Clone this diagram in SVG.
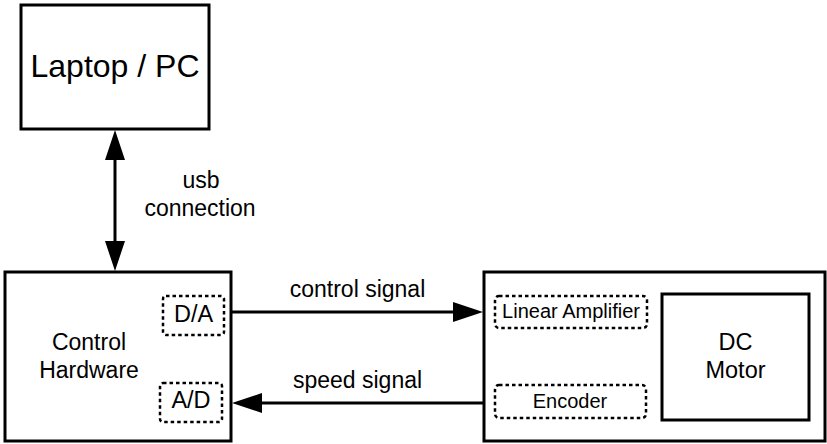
<svg xmlns="http://www.w3.org/2000/svg" width="827" height="444" viewBox="0 0 827 444">
<style>
.box{fill:#fff;stroke:#000;stroke-width:3}
.dash{fill:none;stroke:#000;stroke-width:2.5;stroke-dasharray:3.5 3}
.t{font-family:"Liberation Sans",Arial,sans-serif;fill:#000;text-anchor:middle}
.line{stroke:#000;stroke-width:3;fill:none}
.head{fill:#000;stroke:none}
</style>
<rect width="827" height="444" fill="#fff"/>
<g id="laptop">
<rect class="box" x="21" y="5" width="188" height="124"/>
<text class="t" x="115" y="77" font-size="32">Laptop / PC</text>
</g>
<g id="control-hardware">
<rect class="box" x="5" y="272" width="226" height="169"/>
<text class="t" x="89" y="350" font-size="23">Control</text>
<text class="t" x="89" y="378" font-size="23">Hardware</text>
</g>
<g id="da">
<rect class="dash" x="163" y="296" width="61" height="39" rx="3"/>
<text class="t" x="193.5" y="322" font-size="23.5">D/A</text>
</g>
<g id="ad">
<rect class="dash" x="160" y="383" width="62" height="39" rx="3"/>
<text class="t" x="191" y="408" font-size="23.5">A/D</text>
</g>
<g id="motor-unit">
<rect class="box" x="484" y="272" width="341" height="169"/>
</g>
<g id="linear-amplifier">
<rect class="dash" x="495" y="296" width="152" height="32" rx="4"/>
<text class="t" x="571" y="318" font-size="20">Linear Amplifier</text>
</g>
<g id="encoder">
<rect class="dash" x="495" y="385" width="151" height="33" rx="4"/>
<text class="t" x="570" y="408" font-size="20">Encoder</text>
</g>
<g id="dc-motor">
<rect class="box" x="662" y="294" width="147" height="126"/>
<text class="t" x="735.5" y="350" font-size="23.5">DC</text>
<text class="t" x="735.5" y="378" font-size="23.5">Motor</text>
</g>
<g id="connectors">
<line class="line" x1="115" y1="158" x2="115" y2="243"/>
<polygon class="head" points="115,130 125,160 105,160"/>
<polygon class="head" points="115,271 125,241 105,241"/>
<text class="t" x="201" y="188" font-size="23">usb</text>
<text class="t" x="200" y="216" font-size="23">connection</text>
<line class="line" x1="231" y1="312" x2="456" y2="312"/>
<polygon class="head" points="483,312 453,302 453,322"/>
<text class="t" x="357.5" y="297" font-size="23">control signal</text>
<line class="line" x1="484" y1="403" x2="260" y2="403"/>
<polygon class="head" points="232,403 262,393 262,413"/>
<text class="t" x="357.5" y="388" font-size="23">speed signal</text>
</g>
</svg>
